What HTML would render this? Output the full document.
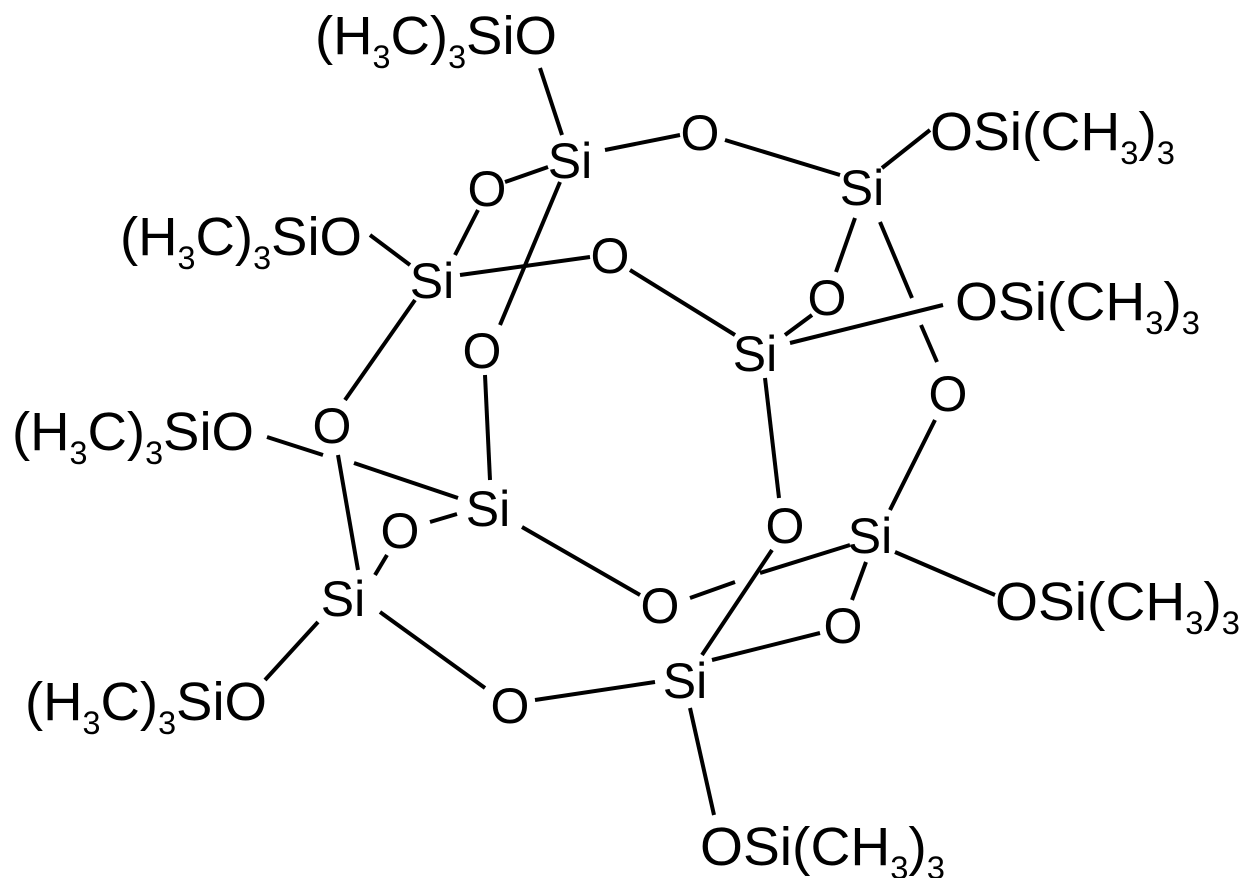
<!DOCTYPE html>
<html><head><meta charset="utf-8"><style>
html,body{margin:0;padding:0;background:#fff;}
svg{display:block;}
text{font-family:"Liberation Sans",Arial,sans-serif;font-size:50px;fill:#000;}
.lab{font-size:54px;}
</style></head><body>
<svg width="1255" height="878" viewBox="0 0 1255 878" xmlns="http://www.w3.org/2000/svg">
<g stroke="#000" stroke-width="4" stroke-linecap="butt" fill="none">
<line x1="540" y1="68" x2="562" y2="135"/>
<line x1="605" y1="150" x2="680" y2="135"/>
<line x1="725" y1="140" x2="840" y2="175"/>
<line x1="882" y1="168" x2="930" y2="130"/>
<line x1="548" y1="167" x2="505" y2="182"/>
<line x1="478" y1="210" x2="455" y2="255"/>
<line x1="560" y1="182" x2="500" y2="325"/>
<line x1="485" y1="375" x2="490" y2="480"/>
<line x1="370" y1="235" x2="410" y2="265"/>
<line x1="460" y1="275" x2="590" y2="257"/>
<line x1="630" y1="270" x2="735" y2="335"/>
<line x1="415" y1="300" x2="345" y2="400"/>
<line x1="855" y1="218" x2="836" y2="272"/>
<line x1="812" y1="315" x2="785" y2="335"/>
<line x1="880" y1="222" x2="912" y2="298"/>
<line x1="921" y1="325" x2="937" y2="362"/>
<line x1="790" y1="343" x2="943" y2="305"/>
<line x1="765" y1="378" x2="779" y2="498"/>
<line x1="935" y1="420" x2="890" y2="510"/>
<line x1="267" y1="437" x2="323" y2="455"/>
<line x1="354" y1="463" x2="458" y2="498"/>
<line x1="338" y1="455" x2="358" y2="570"/>
<line x1="457" y1="514" x2="430" y2="522"/>
<line x1="387" y1="555" x2="375" y2="575"/>
<line x1="522" y1="527" x2="640" y2="595"/>
<line x1="690" y1="598" x2="735" y2="582"/>
<line x1="760" y1="573" x2="850" y2="545"/>
<line x1="772" y1="550" x2="702" y2="655"/>
<line x1="895" y1="552" x2="995" y2="595"/>
<line x1="866" y1="562" x2="852" y2="600"/>
<line x1="820" y1="633" x2="712" y2="660"/>
<line x1="318" y1="622" x2="265" y2="680"/>
<line x1="380" y1="612" x2="485" y2="688"/>
<line x1="535" y1="700" x2="655" y2="682"/>
<line x1="690" y1="708" x2="714" y2="815"/>
</g>
<g text-anchor="middle">
<text x="570" y="178">Si</text>
<text x="700" y="150">O</text>
<text x="862" y="205">Si</text>
<text x="487" y="206">O</text>
<text x="432" y="298">Si</text>
<text x="610" y="273">O</text>
<text x="827" y="315">O</text>
<text x="755" y="371">Si</text>
<text x="482" y="368">O</text>
<text x="948" y="411">O</text>
<text x="332" y="443">O</text>
<text x="488" y="526">Si</text>
<text x="400" y="548">O</text>
<text x="785" y="543">O</text>
<text x="870" y="553">Si</text>
<text x="660" y="623">O</text>
<text x="843" y="643">O</text>
<text x="343" y="616">Si</text>
<text x="685" y="698">Si</text>
<text x="510" y="723">O</text>
</g>
<g class="lab">
<text class="lab" x="315" y="54" textLength="242" lengthAdjust="spacingAndGlyphs">(H<tspan font-size="32" dy="14">3</tspan><tspan dy="-14">C)</tspan><tspan font-size="32" dy="14">3</tspan><tspan dy="-14">SiO</tspan></text>
<text class="lab" x="120" y="255" textLength="242" lengthAdjust="spacingAndGlyphs">(H<tspan font-size="32" dy="14">3</tspan><tspan dy="-14">C)</tspan><tspan font-size="32" dy="14">3</tspan><tspan dy="-14">SiO</tspan></text>
<text class="lab" x="12" y="450" textLength="242" lengthAdjust="spacingAndGlyphs">(H<tspan font-size="32" dy="14">3</tspan><tspan dy="-14">C)</tspan><tspan font-size="32" dy="14">3</tspan><tspan dy="-14">SiO</tspan></text>
<text class="lab" x="25" y="720" textLength="242" lengthAdjust="spacingAndGlyphs">(H<tspan font-size="32" dy="14">3</tspan><tspan dy="-14">C)</tspan><tspan font-size="32" dy="14">3</tspan><tspan dy="-14">SiO</tspan></text>
<text class="lab" x="930" y="150" textLength="245" lengthAdjust="spacingAndGlyphs">OSi(CH<tspan font-size="32" dy="14">3</tspan><tspan dy="-14">)</tspan><tspan font-size="32" dy="14">3</tspan></text>
<text class="lab" x="955" y="320" textLength="245" lengthAdjust="spacingAndGlyphs">OSi(CH<tspan font-size="32" dy="14">3</tspan><tspan dy="-14">)</tspan><tspan font-size="32" dy="14">3</tspan></text>
<text class="lab" x="995" y="620" textLength="245" lengthAdjust="spacingAndGlyphs">OSi(CH<tspan font-size="32" dy="14">3</tspan><tspan dy="-14">)</tspan><tspan font-size="32" dy="14">3</tspan></text>
<text class="lab" x="700" y="865" textLength="245" lengthAdjust="spacingAndGlyphs">OSi(CH<tspan font-size="32" dy="14">3</tspan><tspan dy="-14">)</tspan><tspan font-size="32" dy="14">3</tspan></text>
</g>
</svg>
</body></html>
